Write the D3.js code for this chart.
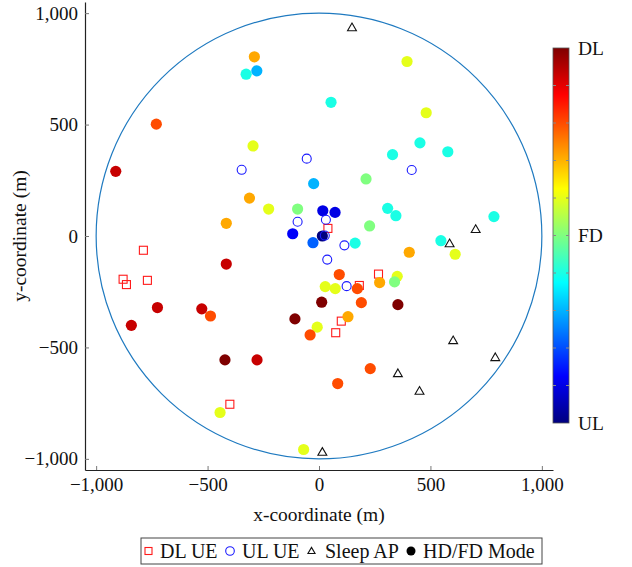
<!DOCTYPE html>
<html>
<head>
<meta charset="utf-8">
<script src="https://cdn.jsdelivr.net/npm/d3@7"></script>
<style>
  html, body { margin: 0; padding: 0; background: #fff; }
  svg text { font-family: "Liberation Serif", "DejaVu Serif", serif; fill: #111; }
</style>
</head>
<body>
<svg id="chart" width="632" height="567"></svg>
<script>
// Network layout: coordinates in metres.
const dlUE = [
  [-788, -64], [-879, -194], [-864, -218], [-770, -199], [-400, -755],
  [40, 34], [267, -171], [181, -222], [100, -382], [75, -434]
];
const ulUE = [
  [-55, 347], [-347, 297], [-96, 64], [416, 296], [31, 73],
  [26, 2], [114, -42], [37, -106], [124, -225]
];
const sleepAP = [
  [148, 936], [703, 31], [586, -33], [602, -468], [791, -544],
  [354, -616], [451, -695], [15, -969]
];
// Active APs: x, y, mode (0 = UL, 0.5 = FD, 1 = DL)
const activeAP = [
  [-290, 804, 0.71], [-327, 726, 0.40], [-279, 741, 0.30], [-730, 502, 0.80],
  [-912, 290, 0.93], [-296, 404, 0.60], [-24, 235, 0.30], [-312, 170, 0.71],
  [-226, 121, 0.60], [-96, 121, 0.50], [17, 113, 0.10], [72, 106, 0.10],
  [-416, 57, 0.71], [-118, 10, 0.12], [-27, -30, 0.22], [15, 0, 0.0],
  [395, 783, 0.60], [54, 600, 0.40], [481, 553, 0.60], [453, 418, 0.40],
  [330, 365, 0.40], [578, 378, 0.40], [211, 256, 0.50], [308, 124, 0.40],
  [345, 91, 0.40], [785, 87, 0.40], [227, 45, 0.50], [162, -32, 0.40],
  [547, -21, 0.40], [405, -73, 0.71], [611, -82, 0.60], [91, -173, 0.80],
  [351, -181, 0.60], [272, -209, 0.71], [339, -206, 0.50], [28, -227, 0.60],
  [73, -236, 0.60], [172, -236, 0.80], [12, -297, 1.0], [190, -299, 0.80],
  [354, -308, 1.0], [130, -362, 0.71], [-8, -409, 0.60], [230, -595, 0.80],
  [84, -662, 0.80], [-416, -126, 0.93], [-725, -321, 0.93], [-842, -401, 0.93],
  [-526, -327, 0.93], [-487, -359, 0.80], [-108, -372, 1.0], [-40, -444, 0.80],
  [-422, -556, 1.0], [-278, -556, 0.93], [-444, -792, 0.60], [-69, -958, 0.60]
];
const axisTicks = [-1000, -500, 0, 500, 1000];
const cellRadius = 1000;
const modeTicks = [0, 0.5, 1];
const modeLabels = ["UL", "FD", "DL"];
const legendLabels = ["DL UE", "UL UE", "Sleep AP", "HD/FD Mode"];

const svg = d3.select("#chart");
const plot = { left: 85, right: 553, top: 2, bottom: 470 };

const x = d3.scaleLinear().domain([-1050, 1050]).range([plot.left, plot.right]);
const y = d3.scaleLinear().domain([-1050, 1050]).range([plot.bottom, plot.top]);

// jet colormap
const jet = d3.scaleLinear()
  .domain([0, 0.125, 0.375, 0.625, 0.875, 1])
  .range(["#00007f", "#0000ff", "#00ffff", "#ffff00", "#ff0000", "#7f0000"])
  .interpolate(d3.interpolateRgb)
  .clamp(true);

const fmt = d3.format(",");

// axes
const xAxis = svg.append("g")
  .attr("transform", `translate(0,${plot.bottom})`)
  .call(d3.axisBottom(x).tickValues(axisTicks).tickFormat(fmt)
    .tickSizeInner(-4).tickSizeOuter(0).tickPadding(8));
const yAxis = svg.append("g")
  .attr("transform", `translate(${plot.left},0)`)
  .call(d3.axisLeft(y).tickValues(axisTicks).tickFormat(fmt)
    .tickSizeInner(-4).tickSizeOuter(0).tickPadding(7));
[xAxis, yAxis].forEach(g => {
  g.select(".domain").attr("stroke", "#222").attr("stroke-width", 1.2);
  g.selectAll(".tick line").attr("stroke", "#777").attr("stroke-width", 1);
  g.selectAll(".tick text").attr("font-size", 19).attr("fill", "#222")
    .style("font-family", "'Liberation Serif', serif");
});

svg.append("text")
  .attr("x", x(0)).attr("y", 521)
  .attr("text-anchor", "middle").attr("font-size", 19.5)
  .text("x-coordinate (m)");
svg.append("text")
  .attr("transform", `translate(26,${y(0)}) rotate(-90)`)
  .attr("text-anchor", "middle").attr("font-size", 19.5)
  .text("y-coordinate (m)");

// cell boundary
svg.append("circle")
  .attr("cx", x(0)).attr("cy", y(0))
  .attr("r", x(cellRadius) - x(0))
  .attr("fill", "none").attr("stroke", "#1f7ac0").attr("stroke-width", 1.2);

const triangle = d3.symbol().type(d3.symbolTriangle).size(34);

// DL users
svg.append("g").selectAll("rect").data(dlUE).join("rect")
  .attr("x", d => x(d[0]) - 4).attr("y", d => y(d[1]) - 4)
  .attr("width", 8).attr("height", 8)
  .attr("fill", "none").attr("stroke", "#ff1a1a").attr("stroke-width", 1.1);

// active APs coloured by duplex mode
svg.append("g").selectAll("circle").data(activeAP).join("circle")
  .attr("cx", d => x(d[0])).attr("cy", d => y(d[1]))
  .attr("r", 5.6).attr("fill", d => jet(d[2]));

// UL users
svg.append("g").selectAll("circle").data(ulUE).join("circle")
  .attr("cx", d => x(d[0])).attr("cy", d => y(d[1]))
  .attr("r", 4.5).attr("fill", "none").attr("stroke", "#1a1aff").attr("stroke-width", 1.1);

// sleeping APs
svg.append("g").selectAll("path").data(sleepAP).join("path")
  .attr("transform", d => `translate(${x(d[0])},${y(d[1]) + 0.8})`)
  .attr("d", triangle)
  .attr("fill", "none").attr("stroke", "#111").attr("stroke-width", 1.1);

// colorbar
const cb = { x: 553, w: 16, top: 48, bottom: 423 };
const cbScale = d3.scaleLinear().domain([0, 1]).range([cb.bottom, cb.top]);
const defs = svg.append("defs");
const grad = defs.append("linearGradient").attr("id", "jetGrad")
  .attr("x1", 0).attr("y1", 1).attr("x2", 0).attr("y2", 0);
grad.selectAll("stop").data(d3.range(0, 1.0001, 0.025)).join("stop")
  .attr("offset", d => d).attr("stop-color", d => jet(d));
svg.append("rect")
  .attr("x", cb.x).attr("y", cb.top).attr("width", cb.w).attr("height", cb.bottom - cb.top)
  .attr("fill", "url(#jetGrad)").attr("stroke", "#555").attr("stroke-width", 0.8);
const cbTicks = d3.range(1, 10).map(i => i / 10);
svg.append("g").selectAll("path").data(cbTicks).join("path")
  .attr("d", d => {
    const yy = cbScale(d);
    return `M${cb.x},${yy}h3M${cb.x + cb.w},${yy}h-3`;
  })
  .attr("stroke", "#888").attr("stroke-width", 1);
svg.append("g").selectAll("text").data(modeTicks).join("text")
  .attr("x", cb.x + cb.w + 9).attr("y", d => cbScale(d))
  .attr("dy", "0.35em").attr("font-size", 19.5)
  .text((d, i) => modeLabels[i]);

// legend
const legend = svg.append("g");
legend.append("rect")
  .attr("x", 141).attr("y", 538).attr("width", 401).attr("height", 26)
  .attr("fill", "#fff").attr("stroke", "#444").attr("stroke-width", 1);
const legY = 551;
const legMarkerX = [148.5, 230, 311.5, 411];
const legTextX = [160, 242, 325, 423];
const drawMarker = [
  (g, cx) => g.append("rect").attr("x", cx - 3.5).attr("y", legY - 3.5).attr("width", 7).attr("height", 7)
        .attr("fill", "none").attr("stroke", "#ff1a1a").attr("stroke-width", 1.1),
  (g, cx) => g.append("circle").attr("cx", cx).attr("cy", legY).attr("r", 4.3)
        .attr("fill", "none").attr("stroke", "#1a1aff").attr("stroke-width", 1.1),
  (g, cx) => g.append("path").attr("transform", `translate(${cx},${legY + 0.5})`)
        .attr("d", d3.symbol().type(d3.symbolTriangle).size(22))
        .attr("fill", "none").attr("stroke", "#111").attr("stroke-width", 1.1),
  (g, cx) => g.append("circle").attr("cx", cx).attr("cy", legY).attr("r", 4.5).attr("fill", "#000")
];
legendLabels.forEach((label, i) => {
  drawMarker[i](legend, legMarkerX[i]);
  legend.append("text")
    .attr("x", legTextX[i]).attr("y", legY).attr("dy", "0.35em")
    .attr("font-size", 20).text(label);
});
</script>
</body>
</html>
